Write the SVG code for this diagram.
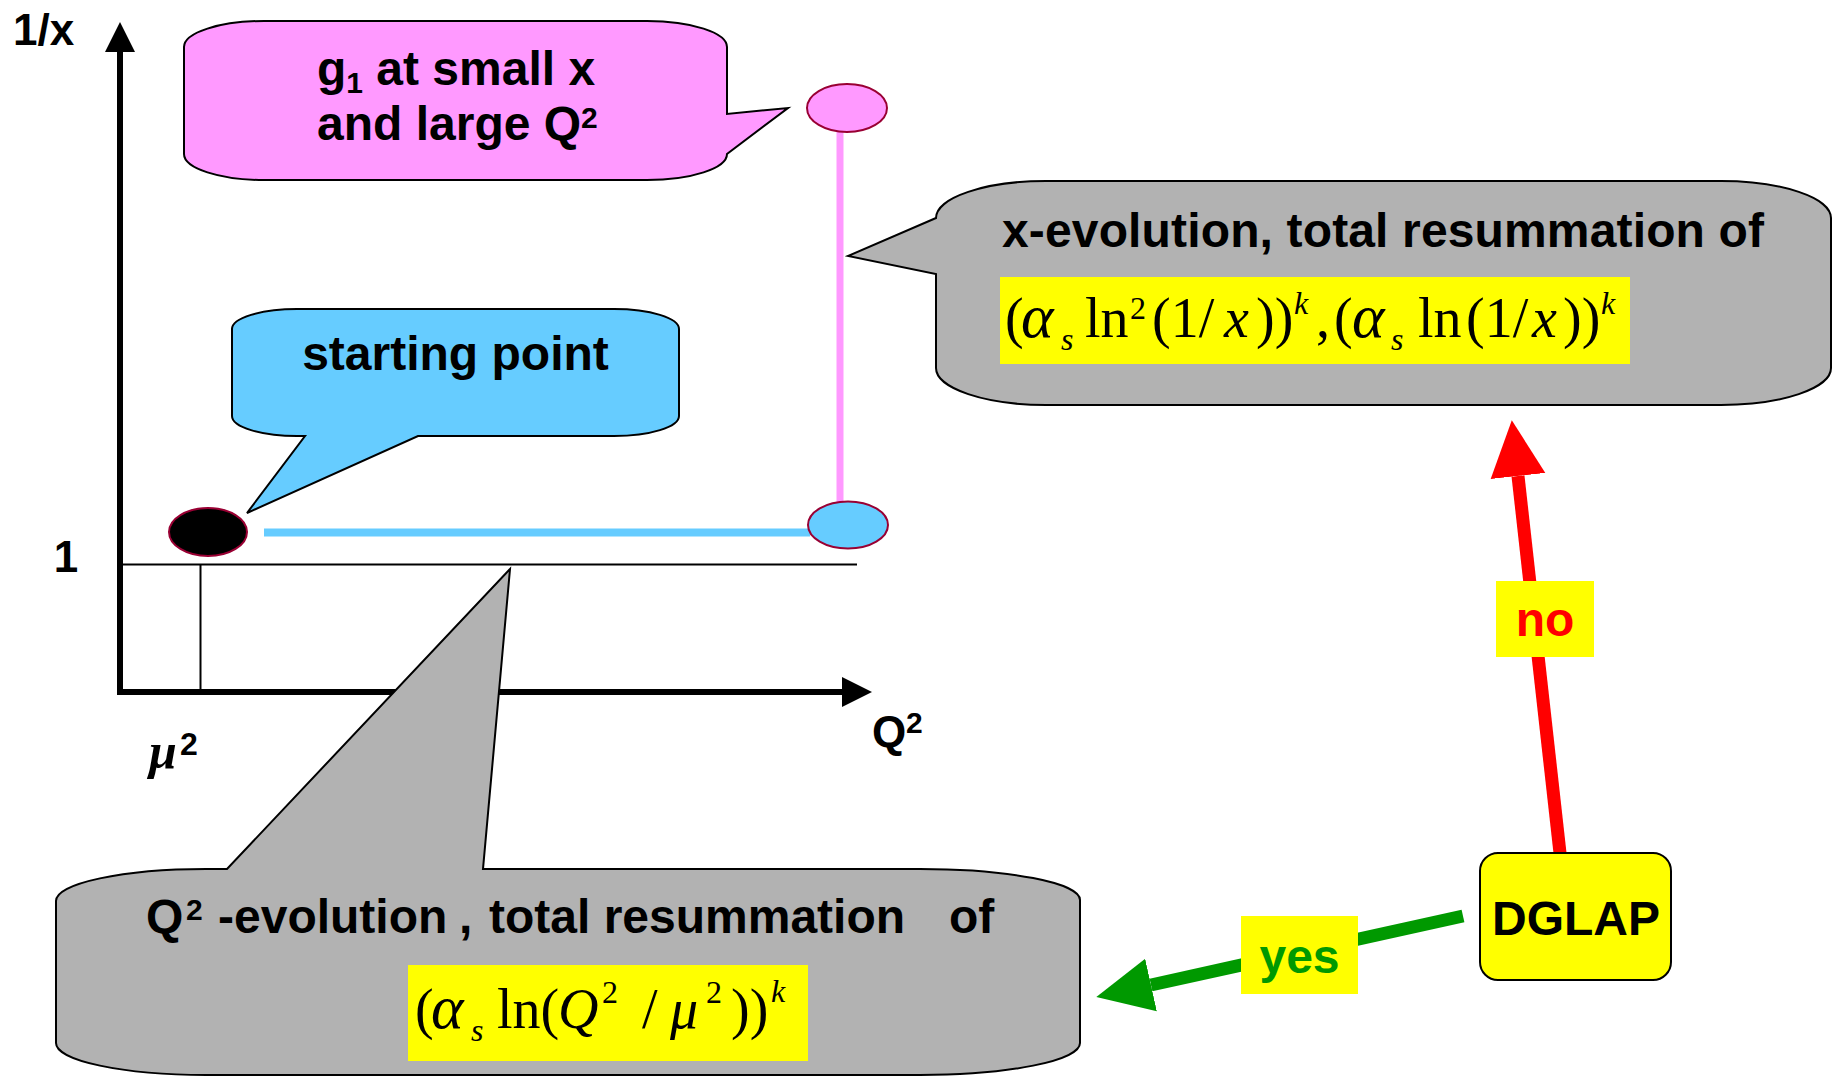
<svg xmlns="http://www.w3.org/2000/svg" width="1843" height="1076" viewBox="0 0 1843 1076">
  <style>
    .lbl { font-family: "Liberation Sans", Arial, sans-serif; font-weight: bold; fill: #000; }
    .math { font-family: "Liberation Serif", "Times New Roman", serif; fill: #000; font-size: 56px; }
    .it { font-style: italic; }
    .al { font-size: 62px; }
    .sm { font-size: 32px; }
    .callout { stroke: #000; stroke-width: 2; stroke-linejoin: miter; }
    .dot { stroke: #990033; stroke-width: 2; }
    .tag { fill: #FFFF00; }
  </style>
  <defs>
    <marker id="headRed" markerUnits="userSpaceOnUse" markerWidth="60" markerHeight="60" viewBox="0 -30 60 60" refX="0" refY="0" orient="auto">
      <path d="M0,-27.5 L56,0 L0,27.5 Z" fill="#FF0000"/>
    </marker>
    <marker id="headGreen" markerUnits="userSpaceOnUse" markerWidth="60" markerHeight="60" viewBox="0 -30 60 60" refX="0" refY="0" orient="auto">
      <path d="M0,-27 L56,0 L0,27 Z" fill="#009900"/>
    </marker>
  </defs>

  <rect width="1843" height="1076" fill="#FFFFFF"/>

  <!-- axes and guide lines -->
  <g id="axes">
    <line x1="120" y1="695" x2="120" y2="50" stroke="#000" stroke-width="6"/>
    <polygon points="120,22 105,52 135,52" fill="#000"/>
    <line x1="117" y1="692" x2="844" y2="692" stroke="#000" stroke-width="6"/>
    <polygon points="872,692 842,677 842,707" fill="#000"/>
    <line x1="120" y1="564.5" x2="857" y2="564.5" stroke="#000" stroke-width="2"/>
    <line x1="200.5" y1="564" x2="200.5" y2="692" stroke="#000" stroke-width="2"/>
    <text class="lbl" x="13" y="45" font-size="44">1/x</text>
    <text class="lbl" x="66" y="572" font-size="44" text-anchor="middle">1</text>
    <text class="lbl" x="872" y="747" font-size="44">Q<tspan font-size="30" x="906" y="733">2</tspan></text>
    <text x="149" y="768" font-size="50" font-family="Liberation Serif, serif" font-style="italic" font-weight="bold">μ</text>
    <text class="lbl" x="180" y="755" font-size="32">2</text>
  </g>

  <!-- evolution paths between points -->
  <g id="connectors">
    <line x1="264" y1="532.5" x2="810" y2="532.5" stroke="#66CCFF" stroke-width="8"/>
    <line x1="840" y1="130" x2="840" y2="503" stroke="#FF99FF" stroke-width="7"/>
    <line x1="1560" y1="853" x2="1518" y2="476" stroke="#FF0000" stroke-width="13" marker-end="url(#headRed)"/>
    <line x1="1463" y1="916" x2="1151" y2="985" stroke="#009900" stroke-width="13" marker-end="url(#headGreen)"/>
  </g>

  <!-- points on the plane -->
  <g id="point-start"><ellipse class="dot" cx="208" cy="532" rx="39" ry="24" fill="#000"/></g>
  <g id="point-q2"><ellipse class="dot" cx="848" cy="525" rx="40" ry="23.5" fill="#66CCFF"/></g>
  <g id="point-target"><ellipse class="dot" cx="847" cy="108" rx="40" ry="24" fill="#FF99FF"/></g>

  <!-- callouts -->
  <g id="callout-g1">
    <path class="callout" fill="#FF99FF" d="M264,21 H647 A80,26 0 0 1 727,47 V114 L788,108 L727,154 A80,26 0 0 1 647,180 H264 A80,26 0 0 1 184,154 V47 A80,26 0 0 1 264,21 Z"/>
    <text class="lbl" x="317" y="85" font-size="48">g<tspan font-size="30" dy="8">1</tspan><tspan dy="-8"> at small x</tspan></text>
    <text class="lbl" x="317" y="140" font-size="48">and large Q<tspan font-size="30" dy="-12">2</tspan></text>
  </g>

  <g id="callout-start">
    <path class="callout" fill="#66CCFF" d="M297,309 H614 A65,20 0 0 1 679,329 V416 A65,20 0 0 1 614,436 H418 L247,513 L305,436 H297 A65,20 0 0 1 232,416 V329 A65,20 0 0 1 297,309 Z"/>
    <text class="lbl" x="455.5" y="370" font-size="48" text-anchor="middle">starting point</text>
  </g>

  <g id="callout-x">
    <path class="callout" fill="#B2B2B2" d="M1046,181 H1721 A110,37 0 0 1 1831,218 V368 A110,37 0 0 1 1721,405 H1046 A110,37 0 0 1 936,368 V274 L848,256 L936,218 A110,37 0 0 1 1046,181 Z"/>
    <text class="lbl" x="1002" y="247" font-size="48" textLength="762">x-evolution, total resummation of</text>
    <rect class="tag" x="1000" y="277" width="630" height="87"/>
    <text class="math">
      <tspan x="1005" y="337">(</tspan><tspan class="it al" x="1021" y="337">α</tspan><tspan class="it sm" x="1061" y="350">s</tspan><tspan x="1085" y="337">ln</tspan><tspan class="sm" x="1130" y="319">2</tspan><tspan x="1152" y="337">(1/</tspan><tspan class="it" x="1224" y="337">x</tspan><tspan x="1256" y="337">))</tspan><tspan class="it sm" x="1294" y="314">k</tspan><tspan x="1316" y="337">,</tspan><tspan x="1334" y="337">(</tspan><tspan class="it al" x="1352" y="337">α</tspan><tspan class="it sm" x="1391" y="350">s</tspan><tspan x="1418" y="337">ln</tspan><tspan x="1466" y="337">(1/</tspan><tspan class="it" x="1532" y="337">x</tspan><tspan x="1563" y="337">))</tspan><tspan class="it sm" x="1601" y="314">k</tspan>
    </text>
  </g>

  <g id="callout-q2">
    <path class="callout" fill="#B2B2B2" d="M216,869 H227 L510,569 L483,869 H920 A160,31 0 0 1 1080,900 V1043 A160,32 0 0 1 920,1075 H206 A150,32 0 0 1 56,1043 V901 A150,32 0 0 1 206,869 Z"/>
    <text class="lbl" x="146" y="933" font-size="48">Q<tspan font-size="30" x="186" y="920">2</tspan></text>
    <text class="lbl" x="218" y="933" font-size="48">-evolution</text>
    <text class="lbl" x="459" y="933" font-size="48">,</text>
    <text class="lbl" x="489" y="933" font-size="48">total resummation</text>
    <text class="lbl" x="949" y="933" font-size="48">of</text>
    <rect class="tag" x="408" y="965" width="400" height="96"/>
    <text class="math">
      <tspan x="415" y="1028">(</tspan><tspan class="it al" x="431" y="1028">α</tspan><tspan class="it sm" x="471" y="1041">s</tspan><tspan x="497" y="1028">ln(</tspan><tspan class="it" x="558" y="1028">Q</tspan><tspan class="sm" x="602" y="1003">2</tspan><tspan x="642" y="1028">/</tspan><tspan class="it" x="670" y="1028">μ</tspan><tspan class="sm" x="706" y="1003">2</tspan><tspan x="731" y="1028">))</tspan><tspan class="it sm" x="771" y="1002">k</tspan>
    </text>
  </g>

  <!-- decision node and branch labels -->
  <g id="node-dglap">
    <rect x="1480" y="853" width="191" height="127" rx="18" ry="18" fill="#FFFF00" stroke="#000" stroke-width="2"/>
    <text class="lbl" x="1576" y="935" font-size="48" text-anchor="middle">DGLAP</text>
  </g>
  <g id="label-no">
    <rect class="tag" x="1496" y="581" width="98" height="76"/>
    <text class="lbl" x="1545" y="636" font-size="48" text-anchor="middle" style="fill:#FF0000">no</text>
  </g>
  <g id="label-yes">
    <rect class="tag" x="1241" y="916" width="117" height="78"/>
    <text class="lbl" x="1299.5" y="973" font-size="48" text-anchor="middle" style="fill:#009900">yes</text>
  </g>
</svg>
